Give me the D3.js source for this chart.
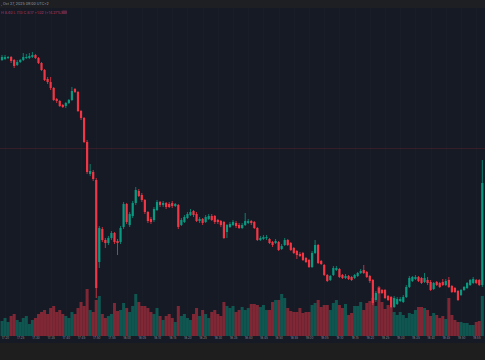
<!DOCTYPE html>
<html><head><meta charset="utf-8">
<script src="https://cdn.jsdelivr.net/npm/d3@7"></script>
<style>html,body{margin:0;padding:0;background:#161a25;overflow:hidden}svg{display:block}</style>
</head><body>
<svg id="c" width="485" height="360"></svg>
<script>
const startTime = "2025-10-27T17:19:00";
const openP = [9.40,9.41,9.42,9.43,9.40,9.35,9.38,9.40,9.42,9.42,9.43,9.45,9.42,9.37,9.30,9.21,9.18,9.12,9.01,8.99,8.95,8.94,8.97,9.00,9.11,9.08,8.89,8.82,8.58,8.26,8.28,8.20,7.38,7.71,7.60,7.57,7.62,7.67,7.59,7.58,7.73,7.96,7.75,7.84,7.97,8.09,8.05,8.00,7.88,7.81,7.80,7.90,7.98,7.95,7.97,7.96,7.97,7.94,7.95,7.75,7.78,7.82,7.85,7.89,7.86,7.79,7.81,7.78,7.81,7.84,7.84,7.80,7.79,7.78,7.68,7.73,7.75,7.77,7.75,7.72,7.75,7.77,7.79,7.78,7.72,7.60,7.61,7.62,7.61,7.58,7.57,7.58,7.51,7.55,7.60,7.57,7.52,7.49,7.46,7.47,7.42,7.40,7.33,7.47,7.55,7.39,7.35,7.25,7.20,7.25,7.30,7.31,7.25,7.22,7.24,7.23,7.22,7.24,7.27,7.30,7.28,7.24,7.20,7.00,7.12,7.10,7.10,7.04,7.03,6.93,6.96,6.99,6.98,7.03,7.13,7.19,7.21,7.23,7.22,7.18,7.20,7.18,7.11,7.18,7.17,7.18,7.15,7.20,7.14,7.12,7.09,7.05,7.10,7.12,7.15,7.17,7.20,7.20,7.15];
const highP = [9.45,9.45,9.44,9.44,9.41,9.40,9.41,9.47,9.46,9.47,9.48,9.46,9.43,9.38,9.31,9.23,9.23,9.13,9.02,9.00,8.96,8.98,9.01,9.13,9.12,9.09,8.90,8.83,8.60,8.36,8.30,8.22,7.74,7.73,7.62,7.64,7.69,7.68,7.61,7.74,7.98,7.97,7.88,7.99,8.13,8.11,8.07,8.01,7.89,7.83,7.93,8.00,7.99,7.99,7.98,7.98,7.99,7.97,7.96,7.82,7.85,7.88,7.91,7.90,7.88,7.83,7.82,7.85,7.86,7.86,7.85,7.81,7.80,7.79,7.76,7.78,7.80,7.79,7.77,7.77,7.87,7.81,7.80,7.79,7.73,7.64,7.65,7.65,7.62,7.59,7.61,7.59,7.56,7.62,7.61,7.58,7.53,7.50,7.48,7.48,7.43,7.41,7.49,7.60,7.56,7.40,7.36,7.26,7.25,7.34,7.34,7.32,7.26,7.26,7.25,7.24,7.26,7.28,7.31,7.35,7.29,7.25,7.21,7.09,7.14,7.11,7.11,7.05,7.04,7.04,7.03,7.03,7.05,7.15,7.24,7.24,7.25,7.24,7.23,7.27,7.23,7.20,7.18,7.19,7.18,7.21,7.21,7.23,7.15,7.13,7.10,7.11,7.14,7.18,7.21,7.23,7.21,7.21,8.40];
const lowP = [9.39,9.40,9.41,9.37,9.32,9.34,9.37,9.39,9.41,9.41,9.42,9.41,9.36,9.29,9.19,9.16,9.10,8.99,8.97,8.93,8.92,8.92,8.96,8.99,9.07,8.88,8.80,8.57,8.26,8.24,8.19,7.02,7.32,7.58,7.52,7.55,7.60,7.56,7.45,7.56,7.71,7.76,7.73,7.82,7.95,8.03,7.98,7.86,7.77,7.76,7.78,7.89,7.93,7.93,7.91,7.92,7.92,7.93,7.71,7.74,7.77,7.81,7.84,7.83,7.78,7.77,7.75,7.77,7.80,7.79,7.76,7.76,7.73,7.61,7.62,7.72,7.74,7.72,7.71,7.71,7.74,7.76,7.75,7.71,7.59,7.59,7.60,7.60,7.56,7.53,7.56,7.49,7.50,7.54,7.54,7.49,7.46,7.41,7.43,7.39,7.37,7.32,7.32,7.46,7.36,7.35,7.24,7.18,7.19,7.24,7.29,7.22,7.21,7.21,7.20,7.19,7.21,7.23,7.26,7.26,7.22,7.17,6.95,6.98,7.06,7.06,7.01,6.99,6.92,6.92,6.95,6.98,6.97,7.02,7.12,7.18,7.20,7.18,7.16,7.17,7.15,7.09,7.10,7.14,7.12,7.14,7.14,7.12,7.07,7.07,6.99,7.04,7.09,7.11,7.14,7.16,7.16,7.14,7.13];
const closeP = [9.43,9.43,9.43,9.39,9.34,9.38,9.40,9.43,9.43,9.44,9.45,9.42,9.37,9.30,9.20,9.18,9.12,9.00,8.99,8.94,8.93,8.97,9.00,9.09,9.08,8.89,8.82,8.58,8.28,8.29,8.21,7.12,7.72,7.60,7.57,7.62,7.67,7.58,7.57,7.72,7.96,7.78,7.86,7.97,8.10,8.04,8.00,7.88,7.79,7.78,7.91,7.98,7.95,7.97,7.93,7.93,7.94,7.96,7.73,7.80,7.83,7.86,7.88,7.85,7.79,7.81,7.77,7.83,7.84,7.80,7.78,7.78,7.75,7.62,7.75,7.76,7.78,7.74,7.72,7.75,7.79,7.79,7.77,7.72,7.60,7.62,7.63,7.63,7.57,7.55,7.59,7.50,7.54,7.60,7.55,7.50,7.47,7.45,7.44,7.40,7.38,7.33,7.47,7.55,7.37,7.36,7.25,7.19,7.24,7.32,7.32,7.23,7.22,7.24,7.21,7.20,7.25,7.27,7.29,7.27,7.23,7.19,6.97,7.07,7.07,7.07,7.02,7.00,6.93,7.02,7.01,7.01,7.03,7.13,7.22,7.23,7.23,7.19,7.17,7.22,7.17,7.10,7.17,7.15,7.13,7.15,7.19,7.13,7.08,7.08,7.00,7.10,7.13,7.17,7.20,7.21,7.17,7.15,8.17];
const volumeK = [15,18,14,20,22,16,14,18,20,12,16,18,22,24,26,22,28,30,24,26,22,20,18,24,22,28,34,30,47,26,24,36,40,22,18,20,22,33,25,26,33,28,24,30,42,34,30,30,28,24,22,28,20,16,20,22,18,14,30,20,22,18,16,22,28,20,26,22,18,24,26,22,20,34,30,28,30,24,26,29,26,28,32,32,31,29,31,26,26,34,36,36,42,38,28,25,24,24,28,23,24,24,31,33,36,29,31,31,26,33,36,31,28,32,21,23,30,30,34,26,33,35,38,30,49,34,27,31,29,24,21,24,21,18,23,22,26,29,29,28,26,20,23,21,18,20,17,38,21,16,14,14,13,13,11,11,14,15,40];
const refPrice = 8.52;
const headerText = ", Oct 27, 2025 09:00 UTC+2";
const legendText = "H 8.40  L 7.13  C 8.17  +1.02 (+14.27%)";

const t0 = new Date(startTime);
const data = openP.map((o,i)=>({t:d3.timeMinute.offset(t0,i),o,h:highP[i],l:lowP[i],c:closeP[i],v:volumeK[i]}));

const W=485,H=360;
const svg=d3.select("#c");
const UP="#089981", DN="#f23645";
svg.append("rect").attr("width",W).attr("height",H).attr("fill","#161a25");

const x=d3.scaleTime().domain([data[0].t,data[data.length-1].t]).range([2,482.3]);
const y=d3.scaleLinear().domain([6.55,9.88]).range([345,12]);
const yv=d3.scaleLinear().domain([0,100]).range([336,236]);

// grid
const gridTicks=x.ticks(d3.timeMinute.every(5));
svg.append("g").selectAll("line").data(gridTicks).join("line")
  .attr("x1",d=>Math.round(x(d))+0.5).attr("x2",d=>Math.round(x(d))+0.5)
  .attr("y1",8).attr("y2",336).attr("stroke","rgba(255,255,255,0.015)");

svg.append("line").attr("x1",0).attr("x2",W).attr("y1",Math.round(y(refPrice))+0.5).attr("y2",Math.round(y(refPrice))+0.5)
  .attr("stroke",DN).attr("stroke-opacity",0.15);

// volume
svg.append("g").selectAll("rect").data(data).join("rect")
  .attr("x",d=>x(d.t)-1.5).attr("width",3)
  .attr("y",d=>yv(d.v)).attr("height",d=>yv(0)-yv(d.v))
  .attr("fill",d=>d.c>=d.o?UP:DN).attr("fill-opacity",0.48);

// candles
const g=svg.append("g");
g.selectAll("line").data(data).join("line")
  .attr("x1",d=>x(d.t)).attr("x2",d=>x(d.t))
  .attr("y1",d=>y(d.h)).attr("y2",d=>y(d.l))
  .attr("stroke",d=>d.c>=d.o?UP:DN).attr("stroke-width",0.8);
g.selectAll("rect").data(data).join("rect")
  .attr("x",d=>x(d.t)-1.1).attr("width",2.2)
  .attr("y",d=>y(Math.max(d.o,d.c)))
  .attr("height",d=>Math.max(1,Math.abs(y(d.o)-y(d.c))))
  .attr("fill",d=>d.c>=d.o?UP:DN);

// time axis
const axis=d3.axisBottom(x).ticks(d3.timeMinute.every(5)).tickFormat(d3.timeFormat("%H:%M")).tickSize(0).tickPadding(0);
const ag=svg.append("g").attr("transform","translate(0,337)").call(axis);
ag.select(".domain").remove();
ag.selectAll("text").attr("fill","#b2b5be").attr("fill-opacity",0.8).attr("font-size",3).attr("font-family","Inter, sans-serif").attr("dy","0.55em");

// bottom strip and header
svg.append("rect").attr("x",0).attr("y",343).attr("width",W).attr("height",17).attr("fill","#1e1e1f");
svg.append("rect").attr("x",0).attr("y",0).attr("width",W).attr("height",8).attr("fill","#1e1f22");
svg.append("text").attr("x",1).attr("y",5).attr("font-size",3.6).attr("font-family","Inter, sans-serif")
  .attr("fill","#d1d4dc").attr("fill-opacity",0.7).text(headerText);
svg.append("text").attr("x",1).attr("y",13.5).attr("font-size",3.6).attr("font-family","Inter, sans-serif")
  .attr("fill","#e0457a").attr("fill-opacity",0.75).text(legendText);
svg.append("rect").attr("x",62).attr("y",10.5).attr("width",5).attr("height",3.5).attr("rx",0.8)
  .attr("fill","#e0457a").attr("fill-opacity",0.35);
</script>
</body></html>
